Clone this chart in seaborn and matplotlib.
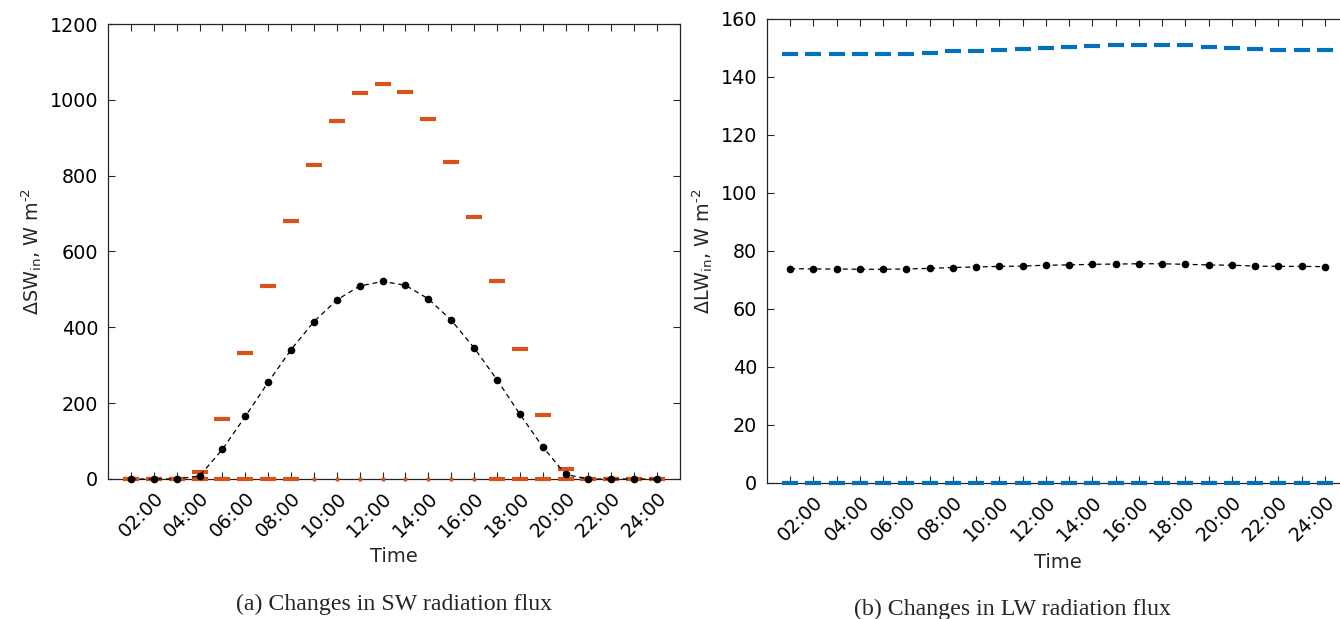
import numpy as np
import pandas as pd
import seaborn as sns
import matplotlib
matplotlib.use("Agg")
import matplotlib.pyplot as plt

# Hour of day (1..24)
hours = list(range(1, 25))
tick_labels = ["02:00", "04:00", "06:00", "08:00", "10:00", "12:00",
               "14:00", "16:00", "18:00", "20:00", "22:00", "24:00"]

# Shortwave: ensemble mean, maximum and minimum change (W m-2)
sw_mean = [0, 0, 0, 8, 78, 165, 255, 341, 415, 472, 509, 521,
           511, 475, 419, 346, 262, 171, 85, 12, 0, 0, 0, 0]
sw_max = [0, 0, 0, 18, 159, 331, 510, 680, 828, 943, 1017, 1043,
          1020, 950, 837, 691, 522, 344, 170, 26, 0, 0, 0, 0]
sw_min = [0, 0, 0, 0, 0, 0, 0, 0, None, None, None, None,
          None, None, None, None, 0, 0, 0, 0, 0, 0, 0, 0]
sw_min_trace = [None] * 8 + [0] * 8 + [None] * 8

# Longwave: ensemble mean, maximum and minimum change (W m-2)
lw_mean = [73.9, 73.8, 73.8, 73.7, 73.7, 73.8, 74.0, 74.3, 74.5, 74.7, 74.8, 75.1,
           75.2, 75.4, 75.5, 75.6, 75.6, 75.4, 75.2, 75.1, 74.8, 74.7, 74.7, 74.6]
lw_max = [148.1, 148.1, 148.0, 147.9, 147.9, 148.1, 148.4, 148.8, 149.1, 149.4, 149.8, 150.1,
          150.5, 150.8, 151.0, 151.2, 151.2, 150.9, 150.5, 149.9, 149.5, 149.4, 149.3, 149.2]
lw_min = [0] * 24

ORANGE = "#D95319"
BLUE = "#0072BD"

sns.set_style("ticks")
plt.rcParams["font.family"] = ["DejaVu Sans"]

fig = plt.figure(figsize=(13.4, 6.19), dpi=100)
W, H = 1340, 619
ax1 = fig.add_axes([108 / W, 1 - 479 / H, (680 - 108) / W, (479 - 24) / H])
ax2 = fig.add_axes([767 / W, 1 - 483 / H, (1348 - 767) / W, (483 - 19) / H])


def draw(ax, mean, vmax, vmin, color, trace=None):
    d = pd.DataFrame({"hour": hours,
                      "mean": mean,
                      "max": vmax,
                      "min": pd.Series(vmin, dtype=float)})
    bar_kw = dict(color=color, linestyle="none", marker="_", markersize=11.5,
                  markeredgewidth=3.0, markeredgecolor=color, zorder=3, clip_on=False)
    sns.lineplot(data=d, x="hour", y="max", ax=ax, **bar_kw)
    sns.lineplot(data=d, x="hour", y="min", ax=ax, **bar_kw)
    if trace is not None:
        t = pd.DataFrame({"hour": hours, "v": pd.Series(trace, dtype=float)})
        sns.lineplot(data=t, x="hour", y="v", ax=ax, color=color, linestyle="none",
                     marker="|", markersize=3.5, markeredgewidth=2.5,
                     markeredgecolor=color, zorder=3, clip_on=False)
    sns.lineplot(data=d, x="hour", y="mean", ax=ax, color="black", linestyle=(0, (4, 3)),
                 linewidth=0.9, marker="o", markersize=5.5, markeredgewidth=0,
                 markeredgecolor="black", zorder=4, clip_on=False)


draw(ax1, sw_mean, sw_max, sw_min, ORANGE, sw_min_trace)
draw(ax2, lw_mean, lw_max, lw_min, BLUE)

ax1.set_ylim(0, 1200)
ax1.set_yticks(range(0, 1201, 200))
ax2.set_ylim(0, 160)
ax2.set_yticks(range(0, 161, 20))

for ax in (ax1, ax2):
    ax.set_xlim(0, 25)
    ax.set_xticks(hours)
    ax.set_xticklabels(["" if h % 2 else tick_labels[h // 2 - 1] for h in hours],
                       rotation=45, ha="right", rotation_mode="anchor")
    ax.tick_params(direction="in", length=5, width=0.8, colors="#262626",
                   labelsize=13.8, labelcolor="black", top=True, right=True, pad=7)
    for s in ax.spines.values():
        s.set_color("#262626")
        s.set_linewidth(0.9)
        s.set_visible(True)
        s.set_zorder(2)

ax1.set_xlabel("Time", fontsize=14, labelpad=4)
ax2.set_xlabel("Time", fontsize=14, labelpad=6)

ax1.set_ylabel("$\\Delta$SW$_{\\mathregular{in}}$, W m$^{\\mathregular{\u2010}2}$", fontsize=13.8)
ax2.set_ylabel("$\\Delta$LW$_{\\mathregular{in}}$, W m$^{\\mathregular{\u2010}2}$", fontsize=13.8)

fig.text(394 / W, 1 - 604 / H, "(a) Changes in SW radiation flux",
         ha="center", va="center", fontsize=17.2, family="Liberation Serif")
fig.text(1013 / W, 1 - 609 / H, "(b) Changes in LW radiation flux",
         ha="center", va="center", fontsize=17.2, family="Liberation Serif")

fig.savefig("out.png", dpi=100)
